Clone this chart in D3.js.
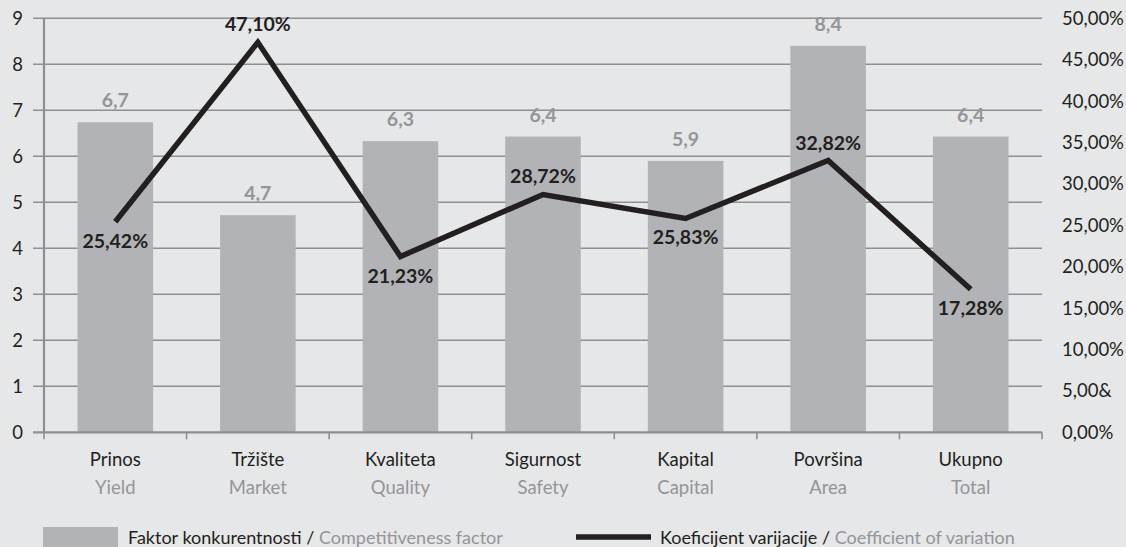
<!DOCTYPE html>
<html>
<head>
<meta charset="utf-8">
<script src="https://cdn.jsdelivr.net/npm/d3@7"></script>
<style>
  body { margin: 0; background: #e6e7e8; }
  svg { display: block; font-family: Lato, "Open Sans", sans-serif; }
</style>
</head>
<body>
<svg width="1126" height="547"></svg>
<script>
// data
var catsHr = ['Prinos', 'Tržište', 'Kvaliteta', 'Sigurnost', 'Kapital', 'Površina', 'Ukupno'];
var catsEn = ['Yield', 'Market', 'Quality', 'Safety', 'Capital', 'Area', 'Total'];
var factor = [6.74, 4.72, 6.33, 6.43, 5.9, 8.4, 6.43];
var variation = [25.42, 47.10, 21.23, 28.72, 25.83, 32.82, 17.28];
// label position for line values: 1 = below point, -1 = above
var labelSide = [1, -1, 1, -1, 1, -1, 1];
var leftTicks = [0, 1, 2, 3, 4, 5, 6, 7, 8, 9];
var rightTicks = ['0,00%', '5,00&', '10,00%', '15,00%', '20,00%', '25,00%', '30,00%', '35,00%', '40,00%', '45,00%', '50,00%'];

var dark = '#231f20', grey = '#939598', barCol = '#b2b3b6', gridCol = '#8e8f91';

var svg = d3.select('svg');
var x0 = 44, x1 = 1042, yTop = 18.3, yBot = 432.3;

var x = d3.scaleBand().domain(catsHr).range([x0, x1]).paddingInner(0.47).paddingOuter(0.235);
var xb = d3.scaleBand().domain(catsHr).range([x0, x1]);
var y = d3.scaleLinear().domain([0, 9]).range([yBot, yTop]);
var y2 = d3.scaleLinear().domain([0, 50]).range([yBot, yTop]);

// gridlines
svg.append('g').selectAll('line').data(leftTicks.slice(1)).enter().append('line')
  .attr('x1', 33).attr('x2', x1)
  .attr('y1', function(d){ return y(d); }).attr('y2', function(d){ return y(d); })
  .attr('stroke', gridCol).attr('stroke-width', 1.6);

// left tick labels
svg.append('g').selectAll('text').data(leftTicks).enter().append('text')
  .attr('x', 23).attr('y', function(d){ return y(d) + 6.5; })
  .attr('text-anchor', 'end').attr('font-size', 18.5).attr('fill', dark)
  .text(function(d){ return d; });

// right tick labels
svg.append('g').selectAll('text').data(rightTicks).enter().append('text')
  .attr('x', 1062).attr('y', function(d, i){ return y2(i * 5) + 6.5; })
  .attr('font-size', 18.5).attr('fill', dark)
  .text(function(d){ return d; });

// bars
svg.append('g').selectAll('rect').data(factor).enter().append('rect')
  .attr('x', function(d, i){ return x(catsHr[i]); })
  .attr('width', x.bandwidth())
  .attr('y', function(d){ return y(d); })
  .attr('height', function(d){ return yBot - y(d); })
  .attr('fill', barCol);

// bar labels
svg.append('g').selectAll('text').data(factor).enter().append('text')
  .attr('x', function(d, i){ return x(catsHr[i]) + x.bandwidth() / 2; })
  .attr('y', function(d){ return y(d) - 15; })
  .attr('text-anchor', 'middle').attr('font-size', 19.5).attr('font-weight', 'bold').attr('fill', grey)
  .text(function(d){ return d.toFixed(1).replace('.', ','); });

// axes lines
svg.append('line').attr('x1', x0).attr('x2', x0).attr('y1', yTop).attr('y2', yBot + 1)
  .attr('stroke', gridCol).attr('stroke-width', 2.2);
svg.append('line').attr('x1', 33).attr('x2', x1).attr('y1', yBot).attr('y2', yBot)
  .attr('stroke', gridCol).attr('stroke-width', 2.2);
var tickX = catsHr.map(function(c){ return xb(c); }).concat([x1]);
svg.append('g').selectAll('line').data(tickX).enter().append('line')
  .attr('x1', function(d){ return d; }).attr('x2', function(d){ return d; })
  .attr('y1', yBot).attr('y2', yBot + 7)
  .attr('stroke', gridCol).attr('stroke-width', 1.6);

// line
var cx = function(i){ return xb(catsHr[i]) + xb.bandwidth() / 2; };
var line = d3.line().x(function(d, i){ return cx(i); }).y(function(d){ return y2(d); });
svg.append('path').datum(variation).attr('d', line)
  .attr('fill', 'none').attr('stroke', dark).attr('stroke-width', 5.5).attr('stroke-linejoin', 'miter');

// line labels
svg.append('g').selectAll('text').data(variation).enter().append('text')
  .attr('x', function(d, i){ return cx(i); })
  .attr('y', function(d, i){ return labelSide[i] > 0 ? y2(d) + 26 : y2(d) - 11; })
  .attr('text-anchor', 'middle').attr('font-size', 19.5).attr('font-weight', 'bold').attr('fill', dark)
  .text(function(d){ return d.toFixed(2).replace('.', ',') + '%'; });

// category labels
var cl = svg.append('g').selectAll('g').data(catsHr).enter().append('g');
cl.append('text').attr('x', function(d, i){ return cx(i); }).attr('y', 466)
  .attr('text-anchor', 'middle').attr('font-size', 18.5).attr('fill', dark)
  .text(function(d){ return d; });
cl.append('text').attr('x', function(d, i){ return cx(i); }).attr('y', 494)
  .attr('text-anchor', 'middle').attr('font-size', 18.5).attr('fill', grey)
  .text(function(d, i){ return catsEn[i]; });

// legend
svg.append('rect').attr('x', 43).attr('y', 527).attr('width', 75).attr('height', 25).attr('fill', barCol);
var t1 = svg.append('text').attr('x', 128).attr('y', 544).attr('font-size', 18).attr('fill', dark);
t1.append('tspan').text('Faktor konkurentnosti / ');
t1.append('tspan').attr('fill', grey).text('Competitiveness factor');

svg.append('line').attr('x1', 576).attr('x2', 651).attr('y1', 537).attr('y2', 537)
  .attr('stroke', dark).attr('stroke-width', 5.5);
var t2 = svg.append('text').attr('x', 660).attr('y', 544).attr('font-size', 18).attr('fill', dark);
t2.append('tspan').text('Koeficijent varijacije / ');
t2.append('tspan').attr('fill', grey).text('Coefficient of variation');
</script>
</body>
</html>
